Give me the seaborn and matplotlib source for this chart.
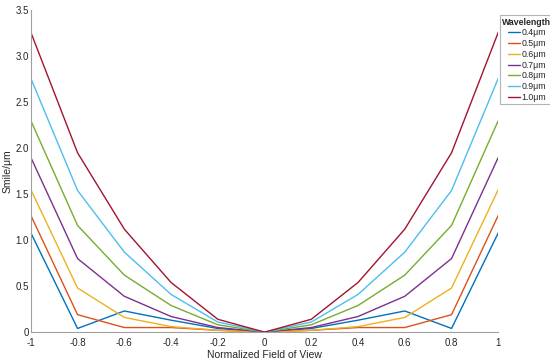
import numpy as np
import pandas as pd
import matplotlib
matplotlib.use("Agg")
import matplotlib.pyplot as plt
import seaborn as sns

fov = [-1, -0.8, -0.6, -0.4, -0.2, 0, 0.2, 0.4, 0.6, 0.8, 1]
wavelengths = ['0.4μm', '0.5μm', '0.6μm', '0.7μm', '0.8μm', '0.9μm', '1.0μm']

# half curves from -1 to 0, mirrored for the right side
s04 = [1.08, 0.04, 0.23, 0.13, 0.04, 0]
s05 = [1.27, 0.19, 0.05, 0.05, 0.02, 0]
s06 = [1.55, 0.48, 0.16, 0.06, 0.02, 0]
s07 = [1.90, 0.80, 0.39, 0.17, 0.05, 0]
s08 = [2.30, 1.16, 0.62, 0.29, 0.08, 0]
s09 = [2.76, 1.54, 0.87, 0.41, 0.11, 0]
s10 = [3.26, 1.95, 1.12, 0.54, 0.14, 0]
halves = [s04, s05, s06, s07, s08, s09, s10]

_colors = ['#0072BD', '#D95319', '#EDB120', '#7E2F8E', '#77AC30', '#4DBEEE', '#A2142F']

rows = []
for wl, half in zip(wavelengths, halves):
    full = half + half[-2::-1]
    for x, v in zip(fov, full):
        rows.append({'fov': x, 'smile': v, 'Wavelength': wl})
df = pd.DataFrame(rows)

sns.set_style('white')
plt.rcParams['font.family'] = ['Liberation Sans', 'DejaVu Sans']

fig = plt.figure(figsize=(5.5, 3.63), dpi=100)
ax = fig.add_axes([0.056, 0.085, 0.85, 0.887])

sns.lineplot(data=df, x='fov', y='smile', hue='Wavelength', palette=_colors,
             linewidth=1.0, ax=ax)

ax.set_xlim(-1, 1)
ax.set_ylim(0, 3.5)
ax.set_xticks([-1, -0.8, -0.6, -0.4, -0.2, 0, 0.2, 0.4, 0.6, 0.8, 1])
ax.set_xticklabels(['-1', '-0.8', '-0.6', '-0.4', '-0.2', '0', '0.2', '0.4', '0.6', '0.8', '1'])
ax.set_yticks(np.arange(0, 3.51, 0.5))
ax.set_yticklabels(['0', '0.5', '1.0', '1.5', '2.0', '2.5', '3.0', '3.5'])
ax.tick_params(direction='in', length=3, labelsize=7, colors='#262626', width=0.6)
ax.tick_params(axis='x', pad=4)
ax.tick_params(axis='y', pad=1.5)
for sp in ['top', 'right']:
    ax.spines[sp].set_visible(False)
for sp in ['left', 'bottom']:
    ax.spines[sp].set_color('#a0a0a0')
    ax.spines[sp].set_linewidth(0.8)

ax.set_xlabel('Normalized Field of View', fontsize=7.5, labelpad=2)
ax.set_ylabel('Smile/μm', fontsize=7.5)
ax.yaxis.set_label_coords(-0.039, 0.5)

leg = ax.legend(title='Wavelength', loc='upper left', bbox_to_anchor=(1.003, 0.985),
                fontsize=6.3, title_fontsize=6.3, frameon=True, fancybox=False,
                handlelength=1.4, handletextpad=0.15, borderpad=0.3,
                labelspacing=0.2, borderaxespad=0)
leg.get_title().set_fontweight('bold')
leg.get_frame().set_edgecolor('#a0a0a0')
leg.get_frame().set_linewidth(0.8)

fig.savefig('out.png', dpi=100)
